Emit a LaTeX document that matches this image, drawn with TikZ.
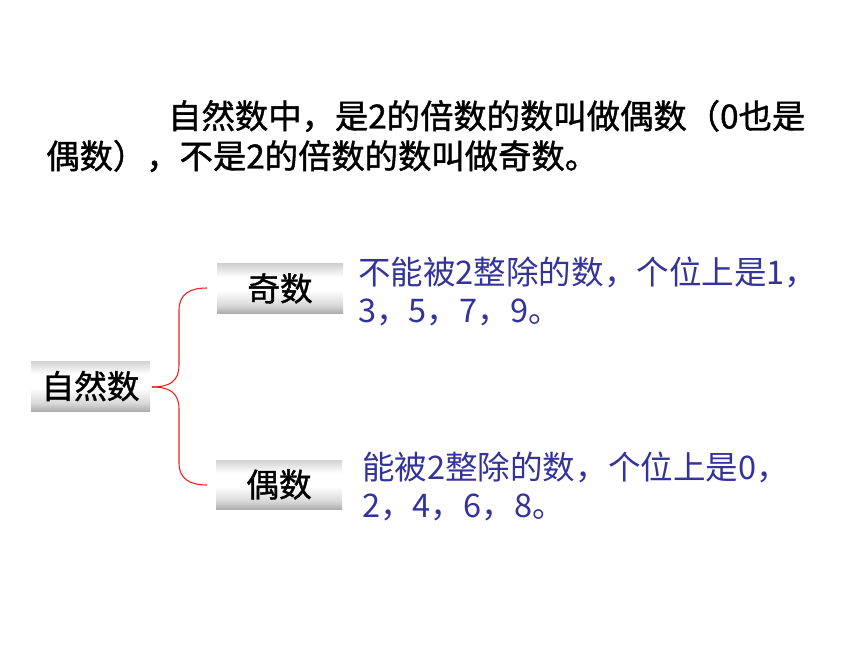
\documentclass[tikz,border=0pt]{standalone}
\usepackage{fontspec}
\setmainfont{Noto Sans CJK SC}
\newfontfamily\heavycjk[FakeBold=1.2]{Noto Sans CJK SC}
\usetikzlibrary{calc}
\definecolor{txtblue}{RGB}{51,51,153}
\definecolor{boxtop}{RGB}{95,95,95}
\definecolor{boxbot}{RGB}{55,55,55}
\definecolor{bracered}{RGB}{240,30,30}
\pgfdeclareverticalshading{boxshade}{100bp}{color(0bp)=(boxbot); color(14bp)=(black!55); color(33bp)=(black!15); color(48bp)=(white); color(62bp)=(white); color(80bp)=(black!25); color(100bp)=(boxtop)}
\tikzset{
  boxnode/.style={inner sep=0pt, shade, shading=boxshade,
    font=\heavycjk\fontsize{24.5}{28}\selectfont, text=black},
  bodytext/.style={anchor=west, inner sep=0pt, font=\heavycjk\fontsize{25}{30}\selectfont, text=black},
  bluetext/.style={anchor=west, inner sep=0pt, font=\fontsize{24.4}{29}\selectfont, text=txtblue},
  bracestyle/.style={draw=bracered, line width=0.8pt}
}
\begin{document}
\begin{tikzpicture}[x=0.75pt,y=-0.75pt]
\useasboundingbox (0,0) rectangle (860,645);
\fill[white] (0,0) rectangle (860,645);
% top paragraph
\node[bodytext] (l1) at (168,116) {自然数中，是2的倍数的数叫做偶数（0也是};
\node[bodytext] (l2) at (46,156) {偶数），不是2的倍数的数叫做奇数。};
% boxes
\node[boxnode, minimum width=89.25pt, minimum height=37.5pt] (zr) at (90.5,386) {自然数};
\node[boxnode, minimum width=94.5pt, minimum height=36.75pt] (qi) at (280,288.5) {奇数};
\node[boxnode, minimum width=94.5pt, minimum height=36.75pt] (ou) at (279,484.5) {偶数};
% brace
\coordinate (tip) at (152,387);
\coordinate (topend) at (207,288);
\coordinate (botend) at (207,485);
\draw[bracestyle] (tip) .. controls (170,387) and (179,381) .. (179,365)
  -- (179,310) .. controls (179,294) and (190,288) .. (topend);
\draw[bracestyle] (tip) .. controls (170,387) and (179,393) .. (179,409)
  -- (179,463) .. controls (179,479) and (190,485) .. (botend);
% blue descriptions
\node[bluetext] (d1) at (358,272) {不能被2整除的数，个位上是1，};
\node[bluetext] (d2) at (358,312) {3，5，7，9。};
\node[bluetext] (d3) at (362,467) {能被2整除的数，个位上是0，};
\node[bluetext] (d4) at (362,507) {2，4，6，8。};
\end{tikzpicture}
\end{document}
